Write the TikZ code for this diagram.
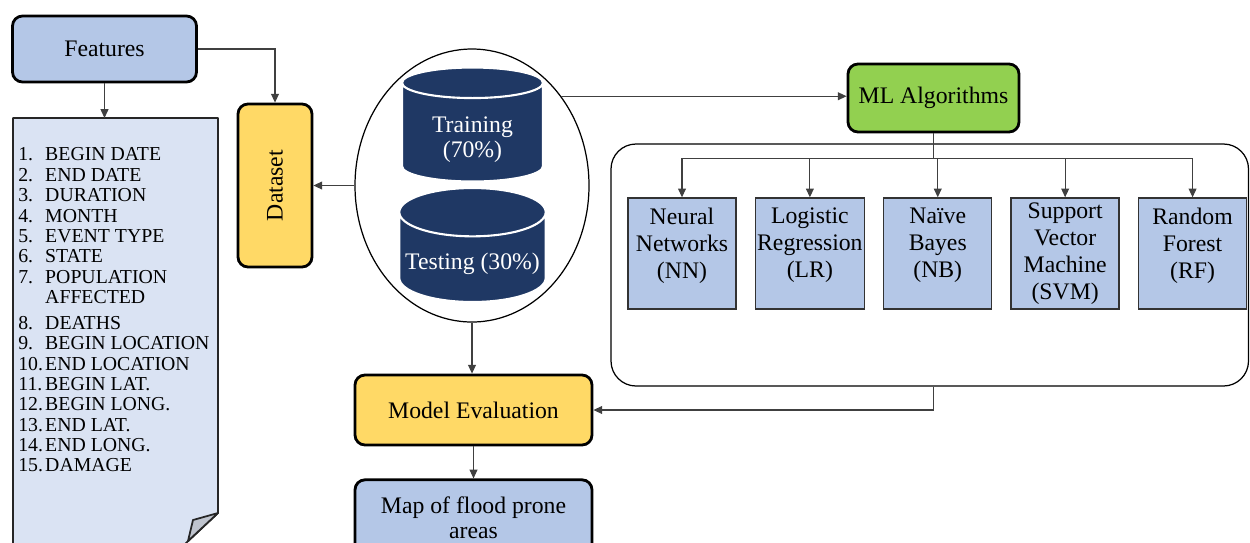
\documentclass[tikz,border=0pt]{standalone}
\usepackage{fontspec}
\setmainfont{Liberation Serif}
\usetikzlibrary{shapes,arrows.meta,positioning}

\definecolor{boxblue}{HTML}{B4C7E7}
\definecolor{pageblue}{HTML}{DAE3F3}
\definecolor{boxyellow}{HTML}{FFD966}
\definecolor{boxgreen}{HTML}{92D050}
\definecolor{drumblue}{HTML}{1F3864}
\definecolor{foldgrey}{HTML}{BFC4CE}

\newcommand{\boxfont}{\fontsize{13.5}{15.3}\selectfont}
\newcommand{\listfont}{\fontsize{11.25}{11.6}\selectfont}
\newcommand{\itemno}[1]{\makebox[15.3pt][l]{#1}}

\tikzset{
    stage/.style = { draw, line width=1.6pt, rectangle, align=center,
        rounded corners=2mm,
        font=\boxfont,
        inner sep=2pt
    },
    method/.style = { draw=black!80, line width=0.8pt, rectangle, align=center,
        fill=boxblue,
        font=\boxfont,
        minimum width=2.16cm, minimum height=2.22cm,
        inner sep=1pt
    },
    method3/.style = { method, text depth=12pt },
    drum/.style = { cylinder, shape border rotate=90, aspect=0.33,
        anchor=shape center,
        draw=white, line width=1.2pt,
        cylinder uses custom fill,
        cylinder body fill=drumblue, cylinder end fill=drumblue,
        text=white, font=\fontsize{13.5}{14.2}\selectfont, align=center,
        minimum width=2.82cm, minimum height=2.28cm
    },
    sheet/.style = { draw=black!85, line width=1pt, fill=pageblue, line join=round },
    flap/.style = { draw=black!85, line width=1pt, fill=foldgrey, line join=round },
    listtext/.style = { align=left, font=\listfont, inner sep=0pt },
    panel/.style = { draw, line width=0.7pt, rectangle, rounded corners=5mm,
        minimum width=12.75cm, minimum height=4.84cm
    },
    aline/.style = { draw=black!75, line width=0.6pt },
    arrow/.style = { aline, -{Triangle[length=5pt,width=4.5pt]} }
}

\begin{document}
\begin{tikzpicture}
        \useasboundingbox (0,0) rectangle (25,-10.84);

        % features and dataset
        \node[stage, fill=boxblue, minimum width=3.68cm, minimum height=1.32cm] (feat) at (2.09,-0.98) {Features};
        \node[stage, fill=boxyellow, minimum width=1.48cm, minimum height=3.26cm] (dset) at (5.5,-3.71) {\rotatebox{90}{Dataset}};
        \draw[arrow] (feat.east) -| (dset.north);

        % feature list on a sheet with a folded corner
        \coordinate (sheet) at (0.26,-2.36);
        \path[sheet] (sheet) -- ++(4.1,0) -- ++(0,-7.9) coordinate (fold) -- (3.68,-10.9) -- (0.26,-10.9) -- cycle;
        \path[flap] (fold) -- (3.86,-10.4) -- (3.76,-10.82) -- cycle;
        \draw[arrow] (feat.south) -- (feat.south |- sheet);
        \node[listtext] (flist) [below right = 0.59cm and 0.1cm of sheet] {
            \itemno{1.}BEGIN DATE\\
            \itemno{2.}END DATE\\
            \itemno{3.}DURATION\\
            \itemno{4.}MONTH\\
            \itemno{5.}EVENT TYPE\\
            \itemno{6.}STATE\\
            \itemno{7.}POPULATION\\
            \itemno{}AFFECTED\\[3pt]
            \itemno{8.}DEATHS\\
            \itemno{9.}BEGIN LOCATION\\
            \itemno{10.}END LOCATION\\
            \itemno{11.}BEGIN LAT.\\
            \itemno{12.}BEGIN LONG.\\
            \itemno{13.}END LAT.\\
            \itemno{14.}END LONG.\\
            \itemno{15.}DAMAGE
        };

        % train / test split
        \node[draw, ellipse, line width=0.7pt, inner sep=0pt, minimum width=4.68cm, minimum height=5.46cm] (split) at (9.44,-3.71) {};
        \node[drum, text height=27.3pt] (train) at (9.45,-2.49) {Training\\(70\%)};
        \node[drum, text height=11pt] (test) at (9.45,-4.9) {Testing (30\%)};
        \draw[arrow] (split.west) -- (dset.east);

        % ML algorithms
        \node[stage, fill=boxgreen, minimum width=3.42cm, minimum height=1.36cm] (ml) at (18.67,-1.96) {ML Algorithms};
        \draw[arrow] (split.45) -- (split.45 -| ml.west);
        \node[panel] (algos) at (18.595,-5.3) {};
        \node[method3] (nn) at (13.64,-5.07) {Neural\\Networks\\(NN)};
        \node[method3] (lr) [right=0.36cm of nn] {Logistic\\Regression\\(LR)};
        \node[method3] (nb) [right=0.36cm of lr] {Naïve\\Bayes\\(NB)};
        \node[method] (svm) [right=0.36cm of nb] {Support\\Vector\\Machine\\(SVM)};
        \node[method3] (rf) [right=0.36cm of svm] {Random\\Forest\\(RF)};
        \draw[aline] (ml.south) -- ++(0,-0.5) coordinate (fork);
        \draw[aline] (nn.north |- fork) -- (rf.north |- fork);
        \draw[arrow] (nn.north |- fork) -- (nn.north);
        \draw[arrow] (lr.north |- fork) -- (lr.north);
        \draw[arrow] (nb.north |- fork) -- (nb.north);
        \draw[arrow] (svm.north |- fork) -- (svm.north);
        \draw[arrow] (rf.north |- fork) -- (rf.north);

        % evaluation and output
        \node[stage, fill=boxyellow, minimum width=4.74cm, minimum height=1.4cm] (meval) at (9.47,-8.2) {Model Evaluation};
        \node[stage, fill=boxblue, minimum width=4.74cm, minimum height=1.5cm, font=\fontsize{13.5}{14.2}\selectfont] (fmap) [below=0.64cm of meval] {Map of flood prone\\areas};
        \draw[arrow] (split.south) -- (split.south |- meval.north);
        \draw[arrow] (algos.south -| ml.south) |- (meval.east);
        \draw[arrow] (meval.south) -- (fmap.north);
\end{tikzpicture}
\end{document}
